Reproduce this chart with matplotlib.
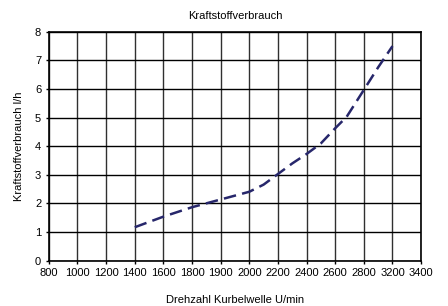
import matplotlib.pyplot as plt
import numpy as np

# x axis is categorical (labels equally spaced)
rpm_labels = ["800", "1000", "1200", "1400", "1600", "1800", "1900",
              "2000", "2200", "2400", "2600", "2800", "3200", "3400"]

# curve, positions in category units
curve_pos = [3, 4, 5, 6, 7, 7.5, 8, 8.5, 9, 9.5, 10, 10.4, 11, 11.5, 12]
fuel_lh = [1.17, 1.54, 1.87, 2.14, 2.41, 2.66, 3.03, 3.40, 3.73, 4.10,
           4.63, 5.03, 5.97, 6.76, 7.50]

plt.rcParams["font.family"] = ["Liberation Sans Narrow", "Liberation Sans", "DejaVu Sans"]

fig = plt.figure(figsize=(4.48, 3.06), dpi=100)
ax = fig.add_axes([0.109, 0.148, 0.831, 0.748])

xs = np.arange(len(rpm_labels))
ax.set_xlim(0, len(rpm_labels) - 1)
ax.set_ylim(0, 8)
ax.set_xticks(xs)
ax.set_xticklabels(rpm_labels, fontsize=8)
ax.set_yticks(range(0, 9))
ax.tick_params(labelsize=8, length=2, width=1)

for x in xs:
    ax.axvline(x, color="#303030", lw=1, zorder=1)
for y in range(0, 9):
    ax.axhline(y, color="black", lw=1, zorder=1)

ax.plot(curve_pos, fuel_lh, color="#27276b", lw=1.8,
        dashes=(5, 2.5), zorder=3)

for s in ax.spines.values():
    s.set_linewidth(1.2)

ax.set_title("Kraftstoffverbrauch", fontsize=8, pad=9)
ax.set_xlabel("Drehzahl Kurbelwelle U/min", fontsize=8, labelpad=12)
ax.set_ylabel("Kraftstoffverbrauch l/h", fontsize=8, labelpad=8)

fig.savefig("out.png", dpi=100)
